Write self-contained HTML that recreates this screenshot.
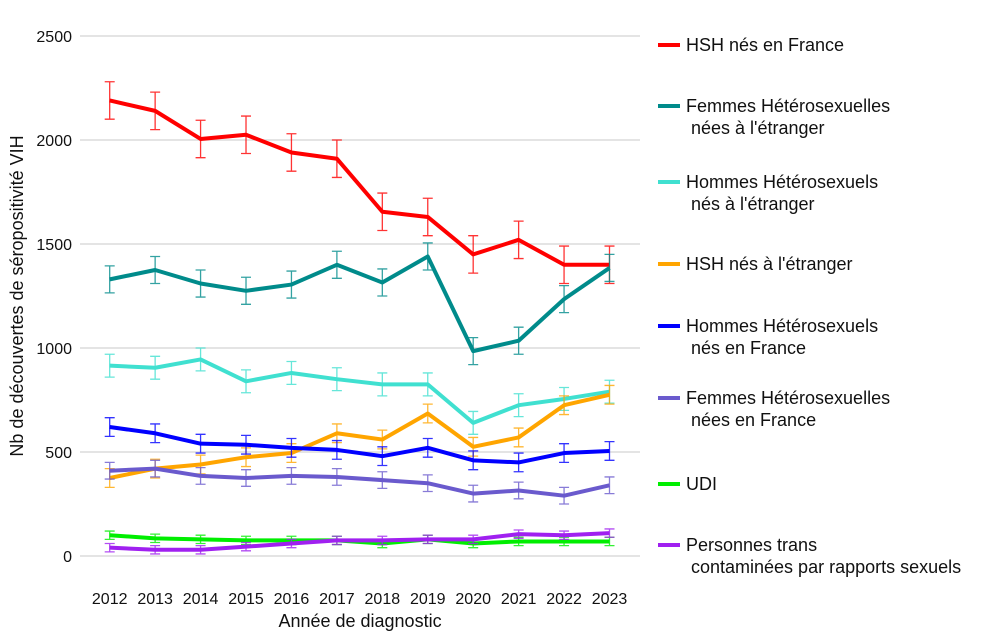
<!DOCTYPE html>
<html><head><meta charset="utf-8"><style>
body{margin:0;background:#fff;width:1004px;height:639px;overflow:hidden;font-family:"Liberation Sans",Arial,sans-serif}
svg text{font-family:"Liberation Sans",Arial,sans-serif;fill:#111}
</style></head><body>
<svg id="chart" width="1004" height="639"></svg>
<script>
const years=[2012,2013,2014,2015,2016,2017,2018,2019,2020,2021,2022,2023];
const yTicks=[0,500,1000,1500,2000,2500];
const hshFrance=[2190,2140,2005,2025,1940,1910,1655,1630,1450,1520,1400,1400];
const femmesHetEtr=[1330,1375,1310,1275,1305,1400,1315,1440,985,1035,1235,1385];
const hommesHetEtr=[915,905,945,840,880,850,825,825,640,725,755,790];
const hshEtr=[375,420,440,475,495,590,560,685,525,570,725,775];
const hommesHetFr=[620,590,540,535,520,510,480,520,460,450,495,505];
const femmesHetFr=[410,420,385,375,385,380,365,350,300,315,290,340];
const udi=[100,85,80,75,75,75,60,80,60,70,70,70];
const trans=[40,30,30,45,60,75,75,80,80,105,100,110];
const seriesNames=["HSH nés en France","Femmes Hétérosexuelles\n nées à l'étranger","Hommes Hétérosexuels\n nés à l'étranger","HSH nés à l'étranger","Hommes Hétérosexuels\n nés en France","Femmes Hétérosexuelles\n nées en France","UDI","Personnes trans\n contaminées par rapports sexuels"];
const errHalf=[90,65,55,45,45,40,20,20];
const series=[hshFrance,femmesHetEtr,hommesHetEtr,hshEtr,hommesHetFr,femmesHetFr,udi,trans];
const colors=["#ff0000","#008b8b","#40e0d0","#ffa500","#0000ff","#6a5acd","#00ee00","#a020f0"];
const keys=["hsh-france","femmes-het-etranger","hommes-het-etranger","hsh-etranger","hommes-het-france","femmes-het-france","udi","trans"];
const legendY=[45,106,182,264,326,398,484,545];

const svg=document.getElementById('chart');
const NS='http://www.w3.org/2000/svg';
const x=y=>109.7+(y-2012)*(609.5-109.7)/11;
const yS=v=>556-v*520/2500;
function mk(t,a,p){const e=document.createElementNS(NS,t);for(const k in a)e.setAttribute(k,a[k]);(p||svg).appendChild(e);return e;}

yTicks.forEach(t=>{
  const l=mk('line',{x1:80,x2:640,y1:yS(t),y2:yS(t),stroke:'#dcdcdc','stroke-width':1.5});
  
  
  const tx=mk('text',{x:72,y:yS(t)+6,'text-anchor':'end','font-size':16});
  tx.textContent=t;
  
  
});
years.forEach(yr=>{
  const tx=mk('text',{x:x(yr),y:604,'text-anchor':'middle','font-size':16});
  tx.textContent=yr;
  
  
});
const xt=mk('text',{x:360,y:627,'text-anchor':'middle','font-size':18});
xt.textContent='Année de diagnostic';


const yt=mk('text',{x:0,y:0,'text-anchor':'middle','font-size':18,transform:'translate(23,296) rotate(-90)'});
yt.textContent='Nb de découvertes de séropositivité VIH';



series.forEach((s,i)=>{
  const g=mk('g',{});
  
  
  s.forEach((v,j)=>{
    const cx=x(years[j]),t=yS(v+errHalf[i]),b=yS(v-errHalf[i]);
    const eb=mk('path',{d:`M${cx},${t}V${b}M${cx-5},${t}H${cx+5}M${cx-5},${b}H${cx+5}`,stroke:colors[i],'stroke-width':1.3,fill:'none',opacity:0.8},g);
    
    
  });
  const ln=mk('polyline',{points:s.map((v,j)=>x(years[j])+','+yS(v)).join(' '),stroke:colors[i],'stroke-width':4,fill:'none','stroke-linejoin':'round'},g);
  
  
  const lg=mk('g',{});
  
  
  mk('line',{x1:658,x2:680,y1:legendY[i],y2:legendY[i],stroke:colors[i],'stroke-width':4},lg);
  seriesNames[i].split('\n').forEach((ln2,k)=>{
    const tx=mk('text',{x:686,y:legendY[i]+6+k*22,'font-size':18,'xml:space':'preserve'},lg);
    tx.textContent=ln2.replace(/^ /,'\u00a0');
  });
});
</script>
</body></html>
